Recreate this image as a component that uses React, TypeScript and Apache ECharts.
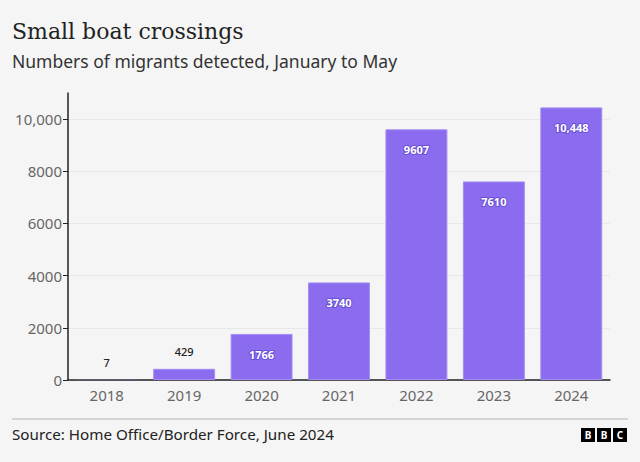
import React, { useEffect, useRef } from "react";
import * as echarts from "echarts";

const years = ["2018", "2019", "2020", "2021", "2022", "2023", "2024"];
const crossings = [7, 429, 1766, 3740, 9607, 7610, 10448];
const labelsOutside = [true, true, false, false, false, false, false];
const yTicks = [0, 2000, 4000, 6000, 8000, 10000];
const titleText = "Small boat crossings";
const subtitleText = "Numbers of migrants detected, January to May";
const sourceText = "Source: Home Office/Border Force, June 2024";

const SANS = "'Noto Sans', 'Open Sans', sans-serif";
const BAR = "#8b6cef";

function fmt(v: number): string {
  return v >= 10000 ? v.toLocaleString("en-GB") : String(v);
}

export default function App() {
  const ref = useRef<HTMLDivElement>(null);
  useEffect(() => {
    document.body.style.margin = "0";
    const chart = echarts.init(ref.current!, null, { renderer: "svg" });
    const data = crossings.map((v, i) => ({
      value: v,
      itemStyle: v < 50 ? { borderWidth: 0 } : undefined,
      label: labelsOutside[i]
        ? {
            show: true,
            position: "top",
            distance: 12,
            color: "#222",
            fontSize: 11,
            fontWeight: 500,
            fontFamily: SANS,
            formatter: () => fmt(v),
          }
        : {
            show: true,
            position: "insideTop",
            distance: 15,
            color: "#fff",
            fontSize: 11,
            fontWeight: "bold",
            fontFamily: SANS,
            textBorderColor: "#6a4fd6",
            textBorderWidth: 2,
            formatter: () => fmt(v),
          },
    }));
    const bbc = ["B", "B", "C"];
    chart.setOption({
      animation: false,
      backgroundColor: "#f5f5f5",
      grid: { left: 68, right: 30, top: 93, bottom: 82 },
      xAxis: {
        type: "category",
        data: years,
        axisLine: { lineStyle: { color: "#222", width: 1.5 } },
        axisTick: { alignWithLabel: true, length: 5, lineStyle: { color: "#222" } },
        axisLabel: { color: "#666", fontSize: 15, fontFamily: SANS, margin: 7 },
      },
      yAxis: {
        type: "value",
        min: 0,
        max: 11000,
        interval: 2000,
        axisLine: { show: true, lineStyle: { color: "#222", width: 1.5 } },
        axisTick: { show: true, length: 5, lineStyle: { color: "#222" }, customValues: yTicks },
        axisLabel: {
          color: "#666",
          fontSize: 15,
          fontFamily: SANS,
          margin: 6,
          customValues: yTicks,
          formatter: (v: number) => fmt(v),
        },
        splitLine: { lineStyle: { color: "#e8e8e8", width: 1 } },
      },
      series: [
        {
          type: "bar",
          data,
          barCategoryGap: "20%",
          itemStyle: { color: BAR, borderColor: "#a48cf3", borderWidth: 1 },
        },
      ],
      graphic: [
        {
          type: "text",
          left: 12,
          top: 20,
          style: {
            text: titleText,
            fontSize: 22,
            fontWeight: 500,
            fontFamily: "'DejaVu Serif', 'Liberation Serif', serif",
            fill: "#222",
          },
        },
        {
          type: "text",
          left: 12,
          top: 52,
          style: { text: subtitleText, fontSize: 17.5, fontFamily: SANS, fill: "#333" },
        },
        {
          type: "line",
          shape: { x1: 12, y1: 419, x2: 628, y2: 419 },
          style: { stroke: "#c8c8c8", lineWidth: 1.5 },
        },
        {
          type: "text",
          left: 12,
          top: 426,
          style: { text: sourceText, fontSize: 15.2, fontFamily: SANS, fill: "#222" },
        },
        ...bbc.flatMap((ch, i) => [
          {
            type: "rect",
            shape: { x: 581 + i * 16, y: 428, width: 14, height: 14 },
            style: { fill: "#000" },
          },
          {
            type: "text",
            x: 581 + i * 16 + 7,
            y: 435,
            style: {
              text: ch,
              fontSize: 10,
              fontWeight: "bold",
              fontFamily: SANS,
              fill: "#fff",
              align: "center",
              verticalAlign: "middle",
            },
          },
        ]),
      ],
    });
    return () => chart.dispose();
  }, []);
  return <div ref={ref} style={{ width: 640, height: 462 }} />;
}
